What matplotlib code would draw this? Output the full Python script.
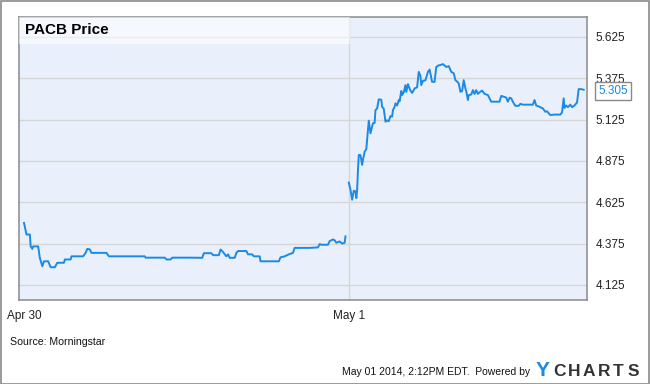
import matplotlib
matplotlib.use("Agg")
import matplotlib.pyplot as plt
import numpy as np

plt.rcParams['font.family'] = ['Liberation Sans', 'DejaVu Sans']

# ==========================================
# DONNEES (minutes de seance depuis l'ouverture du 30 avril)
# ==========================================
apr30_t = [0, 3, 7, 8, 10, 11, 17, 19, 22, 24, 29, 32, 37, 40, 48, 49, 56, 57,
           71, 74, 76, 79, 81, 99, 102, 145, 146, 169, 171, 176, 178, 199,
           214, 216, 225, 227, 234, 236, 238, 243, 245, 247, 253, 255, 257,
           267, 269, 274, 276, 283, 284, 306, 308, 313, 318, 323, 325, 331,
           343, 353, 355, 357, 365, 367, 371, 373, 375, 379, 382, 385, 386]
apr30_p = [4.50, 4.43, 4.43, 4.358, 4.343, 4.358, 4.358, 4.289, 4.238, 4.268,
           4.268, 4.232, 4.232, 4.259, 4.259, 4.279, 4.279, 4.298, 4.298, 4.319,
           4.343, 4.340, 4.319, 4.319, 4.298, 4.298, 4.290, 4.290, 4.279, 4.279,
           4.290, 4.290,
           4.289, 4.317, 4.317, 4.305, 4.305, 4.339, 4.330, 4.298, 4.310, 4.289,
           4.289, 4.319, 4.330, 4.330, 4.310, 4.310, 4.298, 4.298, 4.268, 4.268,
           4.292, 4.298, 4.310, 4.319, 4.349, 4.349, 4.349, 4.352, 4.372, 4.368,
           4.368, 4.390, 4.400, 4.395, 4.380, 4.388, 4.375, 4.380, 4.419]

may1_t = [390, 392, 394, 396, 398, 399, 400, 401, 402, 404, 406, 407, 409, 411,
          413, 414, 416, 418, 419, 421, 422, 424, 426, 429, 430, 432, 434, 436,
          438, 440, 442, 443, 445, 446, 448, 450, 451, 453, 454, 456, 458, 459,
          461, 462, 464, 466, 469, 472, 474, 476, 477, 479, 482, 485, 487, 490,
          493, 495, 498,
          499, 503, 507, 510, 513, 516, 518, 520, 522, 524, 526, 528, 530, 531,
          533, 534, 537, 539, 541, 543, 545, 547, 550, 553, 557, 559, 561, 571,
          573, 576, 579, 581, 583, 585, 588, 590, 594, 596, 599, 611, 613, 615,
          619, 623, 626, 628, 630, 632, 637, 644, 646, 648, 649, 651, 653, 656,
          658, 661, 664, 666, 669, 672]
may1_p = [4.744, 4.700, 4.640, 4.695, 4.690, 4.650, 4.700, 4.820, 4.911, 4.910,
          4.851, 4.881, 4.931, 4.945, 5.062, 5.118, 5.042, 5.082, 5.102, 5.105,
          5.182, 5.192, 5.247, 5.245, 5.202, 5.190, 5.112, 5.120, 5.115, 5.146,
          5.142, 5.182, 5.202, 5.223, 5.210, 5.243, 5.235, 5.298, 5.273, 5.290,
          5.333, 5.292, 5.339, 5.325, 5.300, 5.286, 5.313, 5.320, 5.413, 5.390,
          5.333, 5.359, 5.362, 5.413, 5.427, 5.353, 5.353, 5.443, 5.453,
          5.453, 5.460, 5.443, 5.448, 5.413, 5.405, 5.363, 5.355, 5.343, 5.293,
          5.296, 5.363, 5.313, 5.296, 5.243, 5.273, 5.276, 5.303, 5.280, 5.303,
          5.280, 5.290, 5.300, 5.280, 5.273, 5.253, 5.233, 5.233, 5.268, 5.263,
          5.258, 5.233, 5.257, 5.253, 5.223, 5.208, 5.208, 5.220, 5.215, 5.215,
          5.243, 5.210, 5.202, 5.192, 5.172, 5.175, 5.163, 5.152, 5.155, 5.155,
          5.168, 5.253, 5.195, 5.210, 5.200, 5.215, 5.200, 5.210, 5.228, 5.309,
          5.309, 5.305]

y_ticks = [4.125, 4.375, 4.625, 4.875, 5.125, 5.375, 5.625]
x_ticks = [0, 390]
x_labels = ['Apr 30', 'May 1']
last_value = 5.305

# ==========================================
# FIGURE
# ==========================================
fig = plt.figure(figsize=(6.5, 3.84), dpi=100)
fig.patch.set_facecolor('white')
fig.add_artist(plt.Rectangle((0.0008, 0.0013), 0.998, 0.997, transform=fig.transFigure,
                             fill=False, edgecolor='#8a8a8a', linewidth=1.2))

ax = fig.add_axes([19 / 650, 84 / 384, 568 / 650, 283 / 384])
ax.set_facecolor('#eaf0fb')

line_color = '#1a8ae6'
ax.plot(apr30_t, apr30_p, color=line_color, linewidth=1.4)
ax.plot(may1_t, may1_p, color=line_color, linewidth=1.4)

ax.set_xlim(-6, 676)
ax.set_ylim(4.034, 5.745)

ax.set_yticks(y_ticks)
ax.set_yticklabels([f'{v:.3f}' for v in y_ticks])
ax.yaxis.tick_right()
ax.set_xticks(x_ticks)
ax.set_xticklabels(x_labels)
ax.grid(True, axis='y', color='#d6d6d6', linewidth=1)
ax.axvline(x_ticks[1], color='#d6d6d6', linewidth=1, zorder=0.5)
ax.set_axisbelow(True)
ax.tick_params(axis='both', length=0, labelsize=8.5, colors='#222222')
ax.tick_params(axis='y', pad=6)
ax.tick_params(axis='x', pad=7)
for s in ax.spines.values():
    s.set_color('#8a8a8a')
    s.set_linewidth(1.1)

# cadre du titre
ax.add_patch(plt.Rectangle((0, 0.905), 0.583, 0.095, transform=ax.transAxes,
                           facecolor='white', alpha=0.55, edgecolor='none', zorder=3))
ax.text(0.011, 0.953, 'PACB Price', transform=ax.transAxes, fontsize=11,
        fontweight='bold', va='center', ha='left', color='black', zorder=4)

# etiquette derniere valeur
ax.annotate(f'{last_value:.3f}', xy=(1.0, last_value), xycoords=('axes fraction', 'data'),
            xytext=(8, -1), textcoords='offset points', fontsize=8.5, color=line_color,
            va='center', ha='left', annotation_clip=False, zorder=5,
            bbox=dict(boxstyle='square,pad=0.25', facecolor='white', edgecolor='#8a8a8a',
                      linewidth=1))

fig.text(10 / 650, 1 - 342 / 384, 'Source: Morningstar', fontsize=7.6, va='center',
         ha='left', color='#111111')
fig.text(530 / 650, 1 - 372 / 384, 'May 01 2014, 2:12PM EDT.  Powered by', fontsize=7.5,
         va='center', ha='right', color='#111111')

# logo YCHARTS
fig.text(536 / 650, 1 - 371 / 384, 'Y', fontsize=15, fontweight='bold', va='center',
         ha='left', color='#1a8ae6')
for i, ch in enumerate('CHARTS'):
    fig.text((560 + i * 14.6) / 650, 1 - 371 / 384, ch, fontsize=12.5, fontweight='bold',
             va='center', ha='center', color='#333333')

fig.savefig('out.png', dpi=100)
